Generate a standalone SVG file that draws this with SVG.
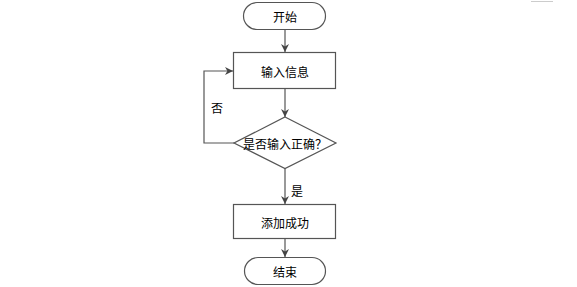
<svg xmlns="http://www.w3.org/2000/svg" width="577" height="287" viewBox="0 0 577 287">
<style>
.shape{fill:#ffffff;stroke:#555555;stroke-width:1.2}
.line{fill:none;stroke:#555555;stroke-width:1.2}
.t{font-family:"Noto Sans CJK SC","Liberation Sans",sans-serif;font-size:12px;fill:#000000;text-anchor:middle;dominant-baseline:central}
</style>
<defs>
<marker id="arr" viewBox="0 0 10 10" refX="10" refY="5" markerWidth="8" markerHeight="8" markerUnits="userSpaceOnUse" orient="auto">
<path d="M0,0 L10,5 L0,10 L3,5 Z" fill="#444444"/>
</marker>
</defs>
<rect width="577" height="287" fill="#ffffff"/>
<line x1="531" y1="1.5" x2="553" y2="1.5" stroke="#cccccc" stroke-width="1"/>
<g id="connectors">
<line class="line" x1="285" y1="29" x2="285" y2="52" marker-end="url(#arr)"/>
<line class="line" x1="285" y1="88" x2="285" y2="117" marker-end="url(#arr)"/>
<polyline class="line" points="234,143 204,143 204,71 233,71" marker-end="url(#arr)"/>
<line class="line" x1="285" y1="168" x2="285" y2="204" marker-end="url(#arr)"/>
<line class="line" x1="285" y1="238" x2="285" y2="257" marker-end="url(#arr)"/>
<text class="t" x="217" y="107">否</text>
<text class="t" x="297" y="190">是</text>
</g>
<g id="start">
<rect class="shape" x="243.5" y="2.5" width="82" height="27" rx="13.5" ry="13.5"/>
<text class="t" x="285" y="16">开始</text>
</g>
<g id="input">
<rect class="shape" x="233.5" y="52.5" width="102" height="36"/>
<text class="t" x="285" y="71">输入信息</text>
</g>
<g id="check">
<polygon class="shape" points="285,117 336,143 285,168.5 234,143"/>
<text class="t" x="285" y="143">是否输入正确？</text>
</g>
<g id="success">
<rect class="shape" x="233.5" y="204.5" width="102" height="34"/>
<text class="t" x="285" y="222">添加成功</text>
</g>
<g id="end">
<rect class="shape" x="244.5" y="257.5" width="81" height="27" rx="13.5" ry="13.5"/>
<text class="t" x="285" y="271">结束</text>
</g>
</svg>
